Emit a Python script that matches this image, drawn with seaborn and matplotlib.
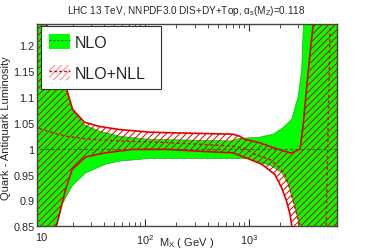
import numpy as np
import pandas as pd
import matplotlib
matplotlib.use("Agg")
import matplotlib.pyplot as plt
import matplotlib.ticker as mticker
from matplotlib.patches import Patch
from matplotlib.lines import Line2D
import seaborn as sns

# ---- data (ratio to NLO central) ----
nlo_hi_x = [8.5, 11, 12.8, 17.5, 20, 26, 36.3, 56.7, 110, 215, 660, 820, 1250, 1720, 2140, 2590, 2990, 3230, 3350, 3600, 8000]
nlo_hi_y = [1.45, 1.235, 1.21, 1.109, 1.074, 1.046, 1.034, 1.024, 1.018, 1.017, 1.015, 1.02, 1.022, 1.028, 1.041, 1.057, 1.102, 1.154, 1.241, 1.6, 2.5]

nlo_lo_x = [8.5, 11, 13.9, 15.8, 19.8, 26.6, 41.5, 56.7, 110, 336, 1000, 1330, 1600, 2070, 2400, 2680, 2890, 3110, 3500, 8000]
nlo_lo_y = [0.5, 0.7, 0.849, 0.892, 0.928, 0.953, 0.970, 0.976, 0.981, 0.981, 0.981, 0.972, 0.968, 0.954, 0.931, 0.898, 0.873, 0.85, 0.6, 0.3]

nlo_c_x = [8.5, 100, 8000]
nlo_c_y = [1.0, 1.0, 1.0]

nll_hi_x = [8.5, 11.1, 12.8, 17.5, 20, 26, 36.3, 56.7, 110, 160, 700, 818, 915, 1250, 1720, 2140, 2490, 2590, 3110, 3350, 3610, 3890, 4170, 5000, 8000]
nll_hi_y = [1.42, 1.24, 1.225, 1.115, 1.076, 1.051, 1.043, 1.037, 1.032, 1.031, 1.028, 1.024, 1.018, 1.012, 1.002, 0.996, 0.992, 0.992, 0.999, 1.05, 1.121, 1.186, 1.241, 1.5, 2.0]

nll_lo_x = [8.5, 13.9, 15.3, 17.1, 19.8, 26.6, 41.5, 75.7, 161, 336, 700, 915, 1330, 1780, 2070, 2310, 2490, 2590, 3000, 8000]
nll_lo_y = [0.65, 0.849, 0.882, 0.921, 0.96, 0.984, 0.992, 0.9986, 0.9986, 0.995, 0.992, 0.983, 0.970, 0.95, 0.924, 0.898, 0.873, 0.85, 0.7, 0.5]

nll_c_x = [8.5, 12.8, 17.5, 26.6, 56.7, 110, 160, 700, 915, 1140, 1600, 1920, 2230, 2400, 2680, 2890, 3110, 3500, 4500, 5550, 6070, 8000]
nll_c_y = [1.042, 1.031, 1.024, 1.019, 1.015, 1.013, 1.012, 1.005, 1.0, 0.989, 0.979, 0.966, 0.95, 0.931, 0.898, 0.873, 0.85, 0.7, 0.6, 0.85, 1.24, 1.8]

y_ticks = [0.85, 0.9, 0.95, 1.0, 1.05, 1.1, 1.15, 1.2]
x_ticks = [10, 100, 1000]
x_ticklabels = ["10", "$10^{2}$", "$10^{3}$"]

GREEN = "#00ff00"
RED = "#e00000"

sns.set_style("ticks")
plt.rcParams["font.family"] = ["Liberation Sans", "DejaVu Sans"]
plt.rcParams["mathtext.fontset"] = "custom"
plt.rcParams["mathtext.rm"] = "Liberation Sans"
plt.rcParams["mathtext.it"] = "Liberation Sans:italic"
plt.rcParams["hatch.linewidth"] = 0.7

fig = plt.figure(figsize=(3.74, 2.53), dpi=100)
ax = fig.add_axes([0.098, 0.1016, 0.802, 0.8007])

# NLO band (solid green)
ax.fill(np.r_[nlo_hi_x, nlo_lo_x[::-1]], np.r_[nlo_hi_y, nlo_lo_y[::-1]],
        facecolor=GREEN, edgecolor="#22aa22", linewidth=0.5, zorder=1)

# NLO+NLL band (red hatch)
ax.fill(np.r_[nll_hi_x, nll_lo_x[::-1]], np.r_[nll_hi_y, nll_lo_y[::-1]],
        facecolor="none", edgecolor=RED, hatch="/////", linewidth=0, zorder=2)

# lines
sns.lineplot(x=nlo_c_x, y=nlo_c_y, ax=ax, color="#2e6b2e", linewidth=0.8,
             linestyle=(0, (3, 2)), sort=False, estimator=None, zorder=3)
sns.lineplot(x=nll_hi_x, y=nll_hi_y, ax=ax, color=RED, linewidth=1.2,
             sort=False, estimator=None, zorder=4)
sns.lineplot(x=nll_lo_x, y=nll_lo_y, ax=ax, color=RED, linewidth=1.2,
             sort=False, estimator=None, zorder=4)
sns.lineplot(x=nll_c_x, y=nll_c_y, ax=ax, color=RED, linewidth=1.0,
             linestyle=(0, (2, 2)), sort=False, estimator=None, zorder=4)

ax.set_xscale("log")
ax.set_xlim(9, 7000)
ax.set_ylim(0.85, 1.2415)

ax.set_xticks(x_ticks)
ax.set_xticklabels(x_ticklabels)
ax.xaxis.set_minor_locator(mticker.LogLocator(base=10, subs=np.arange(2, 10)))
ax.xaxis.set_minor_formatter(mticker.NullFormatter())
ax.set_yticks(y_ticks)
ax.yaxis.set_major_formatter(mticker.FuncFormatter(lambda v, p: "%g" % v))

ax.tick_params(which="both", direction="in", top=True, right=True,
               labelsize=7.8, color="#333333")
ax.tick_params(axis="y", pad=1.5)
ax.tick_params(axis="x", pad=4)
ax.tick_params(which="major", length=5, width=0.8)
ax.tick_params(which="minor", length=3, width=0.6)
for s in ax.spines.values():
    s.set_color("#444444")
    s.set_linewidth(1.0)
    s.set_zorder(6)

ax.set_title(r"LHC 13 TeV, NNPDF3.0 DIS+DY+Top, $\mathrm{\alpha_{s}(M_{Z})}$=0.118",
             fontsize=7.2, pad=8)
ax.set_xlabel(r"$\mathrm{M_{X}}$ ( GeV )", fontsize=8)
ax.xaxis.set_label_coords(0.5, -0.045)
ax.set_ylabel("Quark - Antiquark Luminosity", fontsize=8)
ax.yaxis.set_label_coords(-0.085, 0.49)

h_nlo = (Patch(facecolor=GREEN, edgecolor="none"),
         Line2D([], [], color="#2e6b2e", linewidth=0.8, linestyle=(0, (2, 1.5))))
h_nll = (Patch(facecolor="white", edgecolor="#ff8080", hatch="/////", linewidth=0),
         Line2D([], [], color=RED, linewidth=1.0, linestyle=(0, (2, 1.5))))
leg = ax.legend([h_nlo, h_nll], ["NLO", "NLO+NLL"], loc="upper left",
                bbox_to_anchor=(0.013, 0.688, 0.401, 0.301), mode="expand",
                fontsize=11.5, frameon=True,
                fancybox=False, framealpha=1, edgecolor="#333333",
                handlelength=1.35, handleheight=1.05, handletextpad=0.3,
                labelspacing=0.95, borderpad=0.5, borderaxespad=0)
leg.get_frame().set_linewidth(0.8)
leg.set_zorder(10)

fig.savefig("out.png", dpi=100)
